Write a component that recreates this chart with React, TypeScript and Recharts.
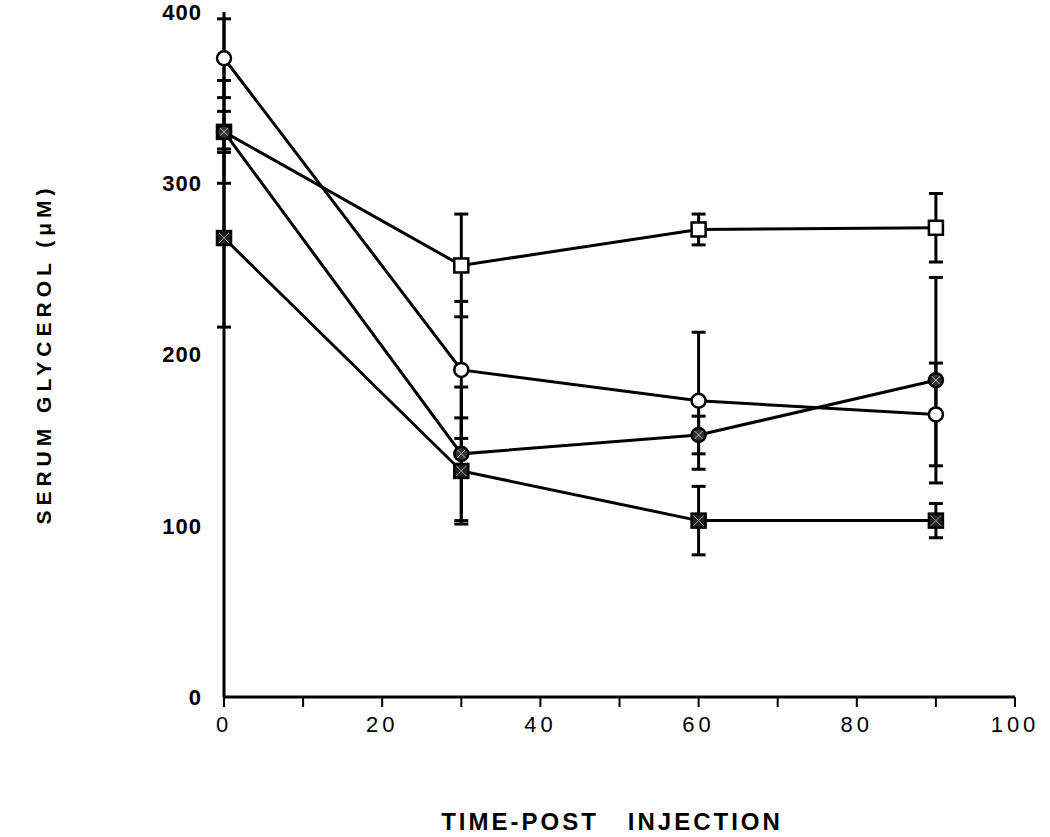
import React from 'react';
import { LineChart, Line, XAxis, YAxis, ErrorBar } from 'recharts';

// time after injection
const times = [0, 30, 60, 90];

// serum glycerol (uM) per group
const squareVals = [330, 252, 273, 274];
const squareErr = [12, 30, 9, 20];
const circleVals = [373, 191, 173, 165];
const circleErr = [23, 40, 40, 30];
const diamondVals = [330, 142, 153, 185];
const diamondErr = [30, 39, 11, 60];
const crossVals = [268, 132, 103, 103];
const crossErr = [52, 31, 20, 10];

const xTicks = [0, 10, 20, 30, 40, 50, 60, 70, 80, 90, 100];
const yTicks = [0, 100, 200, 300, 400];

const data = times.map((t, i) => ({
	t,
	sq: squareVals[i],
	sqErr: squareErr[i],
	ci: circleVals[i],
	ciErr: circleErr[i],
	di: diamondVals[i],
	diErr: diamondErr[i],
	cr: crossVals[i],
	crErr: crossErr[i],
}));

const INK = '#000';

const openSquare = (p: any) => (
	<rect key={p.key} x={p.cx - 7} y={p.cy - 7} width={14} height={14} fill='#fff' stroke={INK} strokeWidth={2.5} />
);
const openCircle = (p: any) => (
	<circle key={p.key} cx={p.cx} cy={p.cy} r={7} fill='#fff' stroke={INK} strokeWidth={2.5} />
);
const crossCircle = (p: any) => (
	<g key={p.key}>
		<circle cx={p.cx} cy={p.cy} r={7} fill='#333' stroke={INK} strokeWidth={2.5} />
		<path d={`M${p.cx - 4},${p.cy - 4}L${p.cx + 4},${p.cy + 4}M${p.cx + 4},${p.cy - 4}L${p.cx - 4},${p.cy + 4}`} stroke='#bbb' strokeWidth={1} />
	</g>
);
const crossSquare = (p: any) => (
	<g key={p.key}>
		<rect x={p.cx - 7} y={p.cy - 7} width={14} height={14} fill='#222' stroke={INK} strokeWidth={2.5} />
		<path d={`M${p.cx - 5},${p.cy - 5}L${p.cx + 5},${p.cy + 5}M${p.cx + 5},${p.cy - 5}L${p.cx - 5},${p.cy + 5}`} stroke='#999' strokeWidth={1} />
	</g>
);

const font = '"Liberation Sans", Arial, sans-serif';

export default function App() {
	return (
		<div style={{ position: 'relative', width: 1050, height: 837, background: '#fff' }}>
			<style>{'body { margin: 0; }'}</style>
			<LineChart width={1050} height={837} data={data} margin={{ top: 12, right: 35, bottom: 100, left: 164 }}>
				<XAxis
					dataKey='t'
					type='number'
					domain={[0, 100]}
					ticks={xTicks}
					interval={0}
					height={40}
					tickSize={10}
					tickMargin={9}
					axisLine={{ stroke: INK, strokeWidth: 3 }}
					tickLine={{ stroke: INK, strokeWidth: 2 }}
					tickFormatter={(v: number) => (v % 20 === 0 ? String(v) : '')}
					tick={{ fill: INK, fontSize: 22, fontFamily: font, letterSpacing: 4 }}
				/>
				<YAxis
					type='number'
					domain={[0, 400]}
					ticks={yTicks}
					interval={0}
					width={60}
					tickLine={false}
					tickMargin={16}
					axisLine={{ stroke: INK, strokeWidth: 3 }}
					tick={{ fill: INK, fontSize: 22, fontFamily: font, fontWeight: 700, letterSpacing: 1 }}
				/>
				<Line dataKey='sq' stroke={INK} strokeWidth={3} dot={openSquare} isAnimationActive={false}>
					<ErrorBar dataKey='sqErr' width={7} stroke={INK} strokeWidth={3} />
				</Line>
				<Line dataKey='ci' stroke={INK} strokeWidth={3} dot={openCircle} isAnimationActive={false}>
					<ErrorBar dataKey='ciErr' width={7} stroke={INK} strokeWidth={3} />
				</Line>
				<Line dataKey='di' stroke={INK} strokeWidth={3} dot={crossCircle} isAnimationActive={false}>
					<ErrorBar dataKey='diErr' width={7} stroke={INK} strokeWidth={3} />
				</Line>
				<Line dataKey='cr' stroke={INK} strokeWidth={3} dot={crossSquare} isAnimationActive={false}>
					<ErrorBar dataKey='crErr' width={7} stroke={INK} strokeWidth={3} />
				</Line>
			</LineChart>
			<div
				style={{
					position: 'absolute',
					left: 44,
					top: 354,
					transform: 'translate(-50%, -50%) rotate(-90deg)',
					whiteSpace: 'nowrap',
					fontFamily: font,
					fontWeight: 700,
					fontSize: 21,
					letterSpacing: 5,
				}}
			>
				SERUM GLYCEROL (μM)
			</div>
			<div
				style={{
					position: 'absolute',
					left: 612,
					top: 822,
					transform: 'translate(-50%, -50%)',
					whiteSpace: 'pre',
					fontFamily: font,
					fontWeight: 700,
					fontSize: 24,
					letterSpacing: 3,
				}}
			>
				{'TIME-POST   INJECTION'}
			</div>
		</div>
	);
}
